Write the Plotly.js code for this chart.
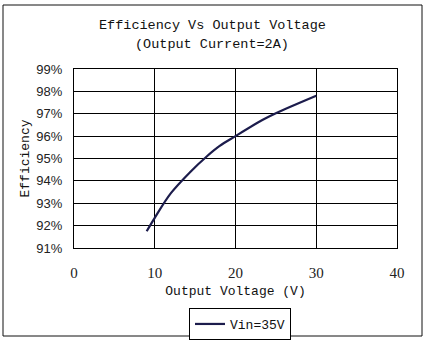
<!DOCTYPE html>
<html>
<head>
<meta charset="utf-8">
<script src="https://cdn.plot.ly/plotly-3.0.1.min.js"></script>
<style>html,body{margin:0;padding:0;background:#fff;}#chart{width:439px;height:343px;}</style>
</head>
<body>
<div id="chart"></div>
<script>
var voltage = [9, 10, 12, 14.4, 16.4, 18, 20, 23.5, 25, 30];
var efficiency = [0.9175, 0.9235, 0.9345, 0.944, 0.9508, 0.9555, 0.960, 0.9675, 0.9702, 0.978];
var seriesName = 'Vin=35V';
var xTicks = [0, 10, 20, 30, 40];
var yTicks = [0.91, 0.92, 0.93, 0.94, 0.95, 0.96, 0.97, 0.98, 0.99];
var titleLines = ['Efficiency Vs Output Voltage', '(Output Current=2A)'];

var L = 74, R = 397, T = 69, B = 248;
function px(x){ return (x - L) / (R - L); }
function py(y){ return (B - y) / (B - T); }

var trace = {
  x: voltage, y: efficiency, name: seriesName, type: 'scatter', mode: 'lines',
  line: {color: '#1c1c4c', width: 2.2, shape: 'spline', smoothing: 1}
};

var monoTitle = {family: 'Liberation Mono, monospace', size: 13.5, color: '#111'};

var layout = {
  width: 439, height: 343,
  margin: {l: L, r: 439 - R, t: T, b: 343 - B, autoexpand: false},
  paper_bgcolor: '#fff', plot_bgcolor: '#fff',
  showlegend: true,
  xaxis: {
    range: [0, 40], tickvals: xTicks, ticktext: xTicks.map(String),
    showgrid: true, gridcolor: '#000', gridwidth: 1,
    showline: true, linecolor: '#000', linewidth: 1, mirror: true,
    zeroline: false, ticks: '', ticklabelstandoff: 11, automargin: false,
    tickfont: {family: 'Liberation Serif, serif', size: 15, color: '#222'},
    title: {text: 'Output Voltage (V)', font: {family: 'Liberation Mono, monospace', size: 13, color: '#111'}, standoff: 5}
  },
  yaxis: {
    range: [0.91, 0.99], tickvals: yTicks, tickformat: '.0%',
    showgrid: true, gridcolor: '#000', gridwidth: 1,
    showline: true, linecolor: '#000', linewidth: 1, mirror: true,
    zeroline: false, ticks: '', ticklabelstandoff: 8, automargin: false,
    tickfont: {family: 'Liberation Sans, Arial, sans-serif', size: 13, color: '#222'},
    title: {text: 'Efficiency', font: {family: 'Liberation Mono, monospace', size: 13, color: '#111'}, standoff: 3}
  },
  legend: {
    x: px(189), xanchor: 'left', y: py(308), yanchor: 'top',
    bordercolor: '#000', borderwidth: 1, bgcolor: '#fff',
    font: {family: 'Liberation Mono, monospace', size: 13, color: '#111'}
  },
  annotations: [
    {text: titleLines[0], xref: 'paper', yref: 'paper', x: px(212), y: py(25), xanchor: 'center', yanchor: 'middle', showarrow: false, font: monoTitle},
    {text: titleLines[1], xref: 'paper', yref: 'paper', x: px(212), y: py(44), xanchor: 'center', yanchor: 'middle', showarrow: false, font: monoTitle}
  ],
  shapes: [{
    type: 'rect', xref: 'paper', yref: 'paper',
    x0: px(3), x1: px(422), y0: py(336), y1: py(5),
    line: {color: '#111', width: 1}
  }]
};

Plotly.newPlot('chart', [trace], layout, {displayModeBar: false, staticPlot: true});
</script>
</body>
</html>
